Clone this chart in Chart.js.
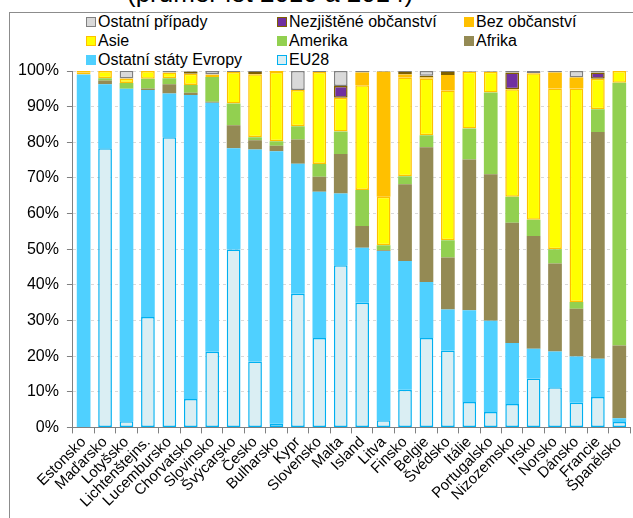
<!DOCTYPE html>
<html>
<head>
<meta charset="utf-8">
<script src="https://cdn.jsdelivr.net/npm/chart.js@4"></script>
<style>
  body { margin: 0; background: #fff; }
  #wrap { position: relative; width: 633px; height: 518px; overflow: hidden; font-family: 'Liberation Sans', Arial, sans-serif; }
  #frame { position: absolute; left: 9px; top: 12px; width: 640px; height: 540px; border: 1px solid #8c8c8c; }
  #title { position: absolute; left: 127px; top: -20px; font-size: 26px; line-height: 26px; white-space: nowrap; color: #000; }
  #legend { position: absolute; left: 86px; top: 12px; display: grid; grid-template-columns: 191px 187px 150px; row-gap: 0; }
  .item { display: flex; align-items: center; font-size: 16px; line-height: 19px; white-space: nowrap; }
  .sw { width: 10px; height: 10px; box-sizing: border-box; margin-right: 2px; }
  canvas { position: absolute; left: 0; top: 0; }
</style>
</head>
<body>
<div id="wrap">
  <div id="frame"></div>
  <div id="title">(průměr let 2010 a 2014)</div>
  <div id="legend"></div>
  <canvas id="myChart" width="633" height="518"></canvas>
</div>
<script>
const countries = ['Estonsko', 'Maďarsko', 'Lotyšsko', 'Lichtenštejns.', 'Lucembursko', 'Chorvatsko', 'Slovinsko',
    'Švýcarsko', 'Česko', 'Bulharsko', 'Kypr', 'Slovensko', 'Malta', 'Island', 'Litva', 'Finsko', 'Belgie',
    'Švédsko', 'Itálie', 'Portugalsko', 'Nizozemsko', 'Irsko', 'Norsko', 'Dánsko', 'Francie', 'Španělsko'];

// shares in %, stacked bottom -> top
const eu28 =       [0, 78.3, 1.7, 31, 81.4, 8, 21.2, 49.9, 18.5, 1, 37.5, 25.1, 45.5, 35, 2, 10.6, 25.1, 21.6, 7.1, 4.3, 6.6, 13.7, 11.3, 6.9, 8.5, 1.5];
const ostEvropa =  [99, 18, 93.3, 63.7, 12.3, 85.3, 69.9, 28.4, 59.5, 76.5, 36.5, 41, 20.1, 15.4, 47.5, 36.1, 15.7, 11.5, 25.8, 25.6, 17.1, 8.4, 10, 13, 10.8, 1.1];
const afrika =     [0, 1, 0, 0.4, 2.6, 0.6, 0.3, 6.5, 2.6, 1.5, 6.8, 4.2, 11.1, 6.1, 0.2, 21.5, 37.8, 14.6, 42.3, 41.1, 33.7, 31.6, 24.7, 13.4, 63.6, 20.4];
const amerika =    [0, 0.7, 1.6, 2.7, 1.7, 2.2, 6.9, 6.1, 0.8, 1.3, 3.7, 3.6, 6.3, 10.1, 1.4, 2.3, 3.4, 4.8, 8.7, 23, 7.3, 4.6, 4, 1.9, 6.4, 73.7];
const asie =       [0.6, 2, 1.2, 2.2, 1.6, 3.1, 0.7, 8.8, 17.7, 19.4, 10.2, 25.8, 9.5, 29.4, 13.6, 27.7, 15.9, 42, 15.9, 5.8, 30.2, 41.1, 45.1, 59.9, 8.5, 3.3];
const bezObc =     [0.4, 0, 0.1, 0, 0, 0, 0, 0, 0, 0.3, 0, 0, 0, 3.6, 35.1, 0.8, 0.3, 4.4, 0, 0, 0, 0, 4.5, 3.1, 0, 0];
const nezjisteno = [0, 0, 0, 0, 0, 0.6, 0, 0, 0.6, 0, 0, 0, 3.3, 0, 0, 0.7, 0.5, 0.8, 0, 0, 4.7, 0, 0, 0, 1.8, 0];
const ostatni =    [0, 0, 2.2, 0, 0.4, 0.2, 1, 0.3, 0.3, 0, 5.3, 0.3, 4.2, 0.4, 0.2, 0.3, 1.3, 0.3, 0.2, 0.2, 0.4, 0.6, 0.4, 1.8, 0.4, 0];

const yTicks = [0, 10, 20, 30, 40, 50, 60, 70, 80, 90, 100];

const series = [
    { label: 'EU28', data: eu28, bg: '#DAEEF3', border: '#00B0F0', bw: 1.5 },
    { label: 'Ostatní státy Evropy', data: ostEvropa, bg: '#4FD0FF', border: '#4FD0FF', bw: 0 },
    { label: 'Afrika', data: afrika, bg: '#948A54', border: '#948A54', bw: 0 },
    { label: 'Amerika', data: amerika, bg: '#92D050', border: '#92D050', bw: 0 },
    { label: 'Asie', data: asie, bg: '#FFFF00', border: '#FFC000', bw: 1.5 },
    { label: 'Bez občanství', data: bezObc, bg: '#FFC000', border: '#FFC000', bw: 0 },
    { label: 'Nezjištěné občanství', data: nezjisteno, bg: '#7030A0', border: '#7F6000', bw: 1.5 },
    { label: 'Ostatní případy', data: ostatni, bg: '#D9D9D9', border: '#808080', bw: 1.5 },
];

// legend, same order as original (top of stack first)
const legendOrder = ['Ostatní případy', 'Nezjištěné občanství', 'Bez občanství', 'Asie', 'Amerika', 'Afrika', 'Ostatní státy Evropy', 'EU28'];
const legendEl = document.getElementById('legend');
legendOrder.forEach(name => {
    const s = series.find(x => x.label === name);
    const item = document.createElement('div');
    item.className = 'item';
    const sw = document.createElement('span');
    sw.className = 'sw';
    sw.style.background = s.bg;
    if (s.bw) sw.style.border = '1.5px solid ' + s.border;
    item.appendChild(sw);
    item.appendChild(document.createTextNode(name));
    legendEl.appendChild(item);
});

const font = "'Liberation Sans', Arial, sans-serif";
const ctx = document.getElementById('myChart');
const myChart = new Chart(ctx, {
    type: 'bar',
    data: {
        labels: countries,
        datasets: series.map(s => ({
            label: s.label,
            data: s.data,
            backgroundColor: s.bg,
            borderColor: s.border,
            borderWidth: s.bw,
            borderSkipped: false,
            categoryPercentage: 0.64,
            barPercentage: 1,
        })),
    },
    options: {
        responsive: false,
        animation: false,
        devicePixelRatio: 1,
        layout: { padding: { top: 71, left: 10, right: 3, bottom: 7 } },
        plugins: {
            legend: { display: false },
            tooltip: { enabled: false },
        },
        scales: {
            x: {
                stacked: true,
                grid: { drawOnChartArea: false, tickColor: '#808080', tickLength: 6, offset: true },
                border: { color: '#808080', width: 1 },
                ticks: {
                    color: '#000',
                    autoSkip: false,
                    maxRotation: 45,
                    minRotation: 45,
                    padding: 0,
                    font: { family: font, size: 15 },
                },
            },
            y: {
                stacked: true,
                min: 0,
                max: 100,
                afterBuildTicks: axis => { axis.ticks = yTicks.map(v => ({ value: v })); },
                grid: { color: '#D9D9D9', tickColor: '#808080', tickLength: 6, tickBorderDash: [] },
                border: { color: '#808080', width: 1, dash: [3, 3] },
                ticks: {
                    color: '#000',
                    padding: 8,
                    font: { family: font, size: 16 },
                    callback: v => v + '%',
                },
            },
        },
    },
});
</script>
</body>
</html>
